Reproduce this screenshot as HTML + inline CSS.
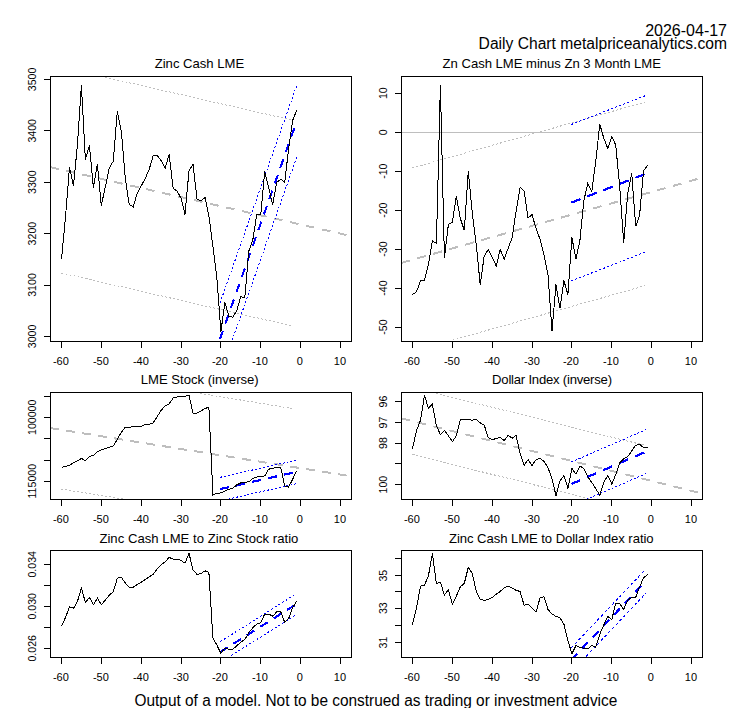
<!DOCTYPE html>
<html><head><meta charset="utf-8"><title>Daily Chart</title>
<style>
html,body{margin:0;padding:0;background:#fff;}
svg{display:block;font-family:"Liberation Sans",sans-serif;}
text{fill:#000;}
.ax{font-size:11px;}
.tt{font-size:13.1px;}
.ay{font-size:10.6px;}
.big{font-size:16px;}
.ln{fill:none;stroke:#000;stroke-width:1;}
</style></head><body>
<svg width="753" height="708" viewBox="0 0 753 708">
<rect width="753" height="708" fill="#fff"/>
<text class="big" x="727" y="36" text-anchor="end">2026-04-17</text>
<text class="big" x="478.6" y="48.7" textLength="248.4" lengthAdjust="spacingAndGlyphs">Daily Chart metalpriceanalytics.com</text>
<text class="big" x="134.5" y="706" textLength="482.8" lengthAdjust="spacingAndGlyphs">Output of a model. Not to be construed as trading or investment advice</text>
<g>
<clipPath id="c0"><rect x="50.5" y="76.5" width="301.0" height="265.0"/></clipPath>
<g clip-path="url(#c0)">
<polyline fill="none" stroke="#bebebe" stroke-width="2" stroke-dasharray="8.9 7.5" shape-rendering="crispEdges" points="50.0,167.1 352.0,236.3"/>
<polyline fill="none" stroke="#bebebe" stroke-width="1" stroke-dasharray="2 2.1" shape-rendering="crispEdges" points="61.5,273.0 293.0,326.1"/>
<polyline fill="none" stroke="#bebebe" stroke-width="1" stroke-dasharray="2 2.1" shape-rendering="crispEdges" points="61.5,67.2 293.0,120.3"/>
<polyline fill="none" stroke="#0000ff" stroke-width="1" stroke-dasharray="1.8 2.2" shape-rendering="crispEdges" points="220.2,302.5 296.8,85.2"/>
<polyline fill="none" stroke="#0000ff" stroke-width="1" stroke-dasharray="1.8 2.2" shape-rendering="crispEdges" points="220.2,374.2 296.8,156.9"/>
<polyline fill="none" stroke="#0000ff" stroke-width="2" stroke-dasharray="9 7.52" shape-rendering="crispEdges" points="219.9,339.2 296.0,123.3"/>
<polyline fill="none" stroke="#000" stroke-width="1" shape-rendering="crispEdges" points="61.5,259.5 65.5,217.0 69.5,167.2 73.5,185.8 77.4,145.0 81.4,85.0 85.4,159.6 89.4,145.3 93.4,187.5 97.4,164.3 101.3,205.5 105.3,187.0 109.3,167.9 113.3,161.2 117.3,111.2 121.3,131.0 125.3,178.5 129.2,204.4 133.2,207.0 137.2,193.1 141.2,186.0 145.2,178.5 149.2,169.2 153.2,155.7 157.1,155.4 161.1,160.6 165.1,168.3 169.1,154.3 173.1,188.1 177.1,191.1 181.1,198.4 185.0,214.4 189.0,170.8 193.0,164.3 197.0,199.1 201.0,201.1 205.0,197.4 208.9,215.8 212.9,246.5 216.9,278.0 220.9,331.7 224.9,302.5 228.9,316.4 232.9,317.1 236.8,310.4 240.8,296.5 244.8,297.8 248.8,251.1 252.8,239.8 256.8,214.3 260.8,214.5 264.7,171.5 268.7,187.8 272.7,204.7 276.7,182.5 280.7,179.2 284.7,182.2 288.6,149.0 292.6,120.5 296.6,110.5"/>
</g>
<rect class="ln" shape-rendering="crispEdges" x="50.5" y="76.5" width="301.0" height="265.0"/>
<path class="ln" shape-rendering="crispEdges" d="M61.5 341.5v6.5M101.5 341.5v6.5M141.5 341.5v6.5M181.5 341.5v6.5M220.5 341.5v6.5M260.5 341.5v6.5M300.5 341.5v6.5M340.5 341.5v6.5M50.5 336.5h-6.5M50.5 285.5h-6.5M50.5 233.5h-6.5M50.5 182.5h-6.5M50.5 130.5h-6.5M50.5 79.5h-6.5"/>
<text class="ax" x="60.9" y="365.0" text-anchor="middle">-60</text>
<text class="ax" x="100.9" y="365.0" text-anchor="middle">-50</text>
<text class="ax" x="140.9" y="365.0" text-anchor="middle">-40</text>
<text class="ax" x="180.9" y="365.0" text-anchor="middle">-30</text>
<text class="ax" x="219.9" y="365.0" text-anchor="middle">-20</text>
<text class="ax" x="259.9" y="365.0" text-anchor="middle">-10</text>
<text class="ax" x="299.9" y="365.0" text-anchor="middle">0</text>
<text class="ax" x="339.9" y="365.0" text-anchor="middle">10</text>
<text class="ay" transform="translate(36.0 336.4) rotate(-90)" text-anchor="middle">3000</text>
<text class="ay" transform="translate(36.0 285.0) rotate(-90)" text-anchor="middle">3100</text>
<text class="ay" transform="translate(36.0 233.6) rotate(-90)" text-anchor="middle">3200</text>
<text class="ay" transform="translate(36.0 182.2) rotate(-90)" text-anchor="middle">3300</text>
<text class="ay" transform="translate(36.0 130.8) rotate(-90)" text-anchor="middle">3400</text>
<text class="ay" transform="translate(36.0 79.4) rotate(-90)" text-anchor="middle">3500</text>
<text class="tt" x="154.7" y="68.1" textLength="89.5" lengthAdjust="spacing">Zinc Cash LME</text>
</g>
<g>
<clipPath id="c1"><rect x="401.5" y="76.5" width="301.0" height="265.0"/></clipPath>
<g clip-path="url(#c1)">
<polyline fill="none" stroke="#bebebe" stroke-width="1" shape-rendering="crispEdges" points="401.0,132.5 703.0,132.5"/>
<polyline fill="none" stroke="#bebebe" stroke-width="2" stroke-dasharray="9 7.6" shape-rendering="crispEdges" points="401.3,262.9 703.0,177.4"/>
<polyline fill="none" stroke="#bebebe" stroke-width="1" stroke-dasharray="2 2.15" shape-rendering="crispEdges" points="412.5,351.5 645.0,285.7"/>
<polyline fill="none" stroke="#bebebe" stroke-width="1" stroke-dasharray="2 2.15" shape-rendering="crispEdges" points="412.5,167.9 645.0,102.1"/>
<polyline fill="none" stroke="#0000ff" stroke-width="1" stroke-dasharray="2 2.3" shape-rendering="crispEdges" points="571.3,124.5 647.6,94.8"/>
<polyline fill="none" stroke="#0000ff" stroke-width="1" stroke-dasharray="2 2.3" shape-rendering="crispEdges" points="571.3,280.9 647.6,251.2"/>
<polyline fill="none" stroke="#0000ff" stroke-width="2.2" stroke-dasharray="10 7.2" shape-rendering="crispEdges" points="571.3,202.7 647.6,173.0"/>
<polyline fill="none" stroke="#000" stroke-width="1" shape-rendering="crispEdges" points="412.5,294.5 416.5,291.8 420.5,280.8 424.5,280.3 428.4,264.6 432.4,241.0 436.4,243.4 440.4,85.0 444.4,257.7 448.4,224.4 452.4,222.2 456.3,196.1 460.3,218.4 464.3,230.4 468.3,171.3 472.3,213.1 476.3,245.0 480.2,284.5 484.2,256.0 488.2,249.6 492.2,257.0 496.2,266.0 500.2,249.6 504.2,259.2 508.1,248.4 512.1,237.7 516.1,211.2 520.1,187.3 524.1,191.2 528.1,218.1 532.0,214.5 536.0,228.4 540.0,239.1 544.0,254.8 548.0,274.6 552.0,331.0 556.0,284.5 559.9,308.4 563.9,280.5 567.9,294.5 571.9,237.5 575.9,259.2 579.9,240.7 583.9,200.5 587.8,183.3 591.8,191.5 595.8,160.6 599.8,124.3 603.8,138.2 607.8,148.5 611.8,136.4 615.7,145.1 619.7,186.0 623.7,243.0 627.7,193.8 631.7,173.1 635.7,226.4 639.6,215.1 643.6,170.8 647.6,165.3"/>
</g>
<rect class="ln" shape-rendering="crispEdges" x="401.5" y="76.5" width="301.0" height="265.0"/>
<path class="ln" shape-rendering="crispEdges" d="M412.5 341.5v6.5M452.5 341.5v6.5M492.5 341.5v6.5M532.5 341.5v6.5M571.5 341.5v6.5M611.5 341.5v6.5M651.5 341.5v6.5M691.5 341.5v6.5M401.5 327.5h-6.5M401.5 288.5h-6.5M401.5 249.5h-6.5M401.5 210.5h-6.5M401.5 171.5h-6.5M401.5 132.5h-6.5M401.5 93.5h-6.5"/>
<text class="ax" x="411.9" y="365.0" text-anchor="middle">-60</text>
<text class="ax" x="451.9" y="365.0" text-anchor="middle">-50</text>
<text class="ax" x="491.9" y="365.0" text-anchor="middle">-40</text>
<text class="ax" x="531.9" y="365.0" text-anchor="middle">-30</text>
<text class="ax" x="570.9" y="365.0" text-anchor="middle">-20</text>
<text class="ax" x="610.9" y="365.0" text-anchor="middle">-10</text>
<text class="ax" x="650.9" y="365.0" text-anchor="middle">0</text>
<text class="ax" x="690.9" y="365.0" text-anchor="middle">10</text>
<text class="ay" transform="translate(387.0 327.1) rotate(-90)" text-anchor="middle">-50</text>
<text class="ay" transform="translate(387.0 288.1) rotate(-90)" text-anchor="middle">-40</text>
<text class="ay" transform="translate(387.0 249.1) rotate(-90)" text-anchor="middle">-30</text>
<text class="ay" transform="translate(387.0 210.2) rotate(-90)" text-anchor="middle">-20</text>
<text class="ay" transform="translate(387.0 171.2) rotate(-90)" text-anchor="middle">-10</text>
<text class="ay" transform="translate(387.0 132.2) rotate(-90)" text-anchor="middle">0</text>
<text class="ay" transform="translate(387.0 93.2) rotate(-90)" text-anchor="middle">10</text>
<text class="tt" x="442.6" y="68.1" textLength="218.4" lengthAdjust="spacing">Zn Cash LME minus Zn 3 Month LME</text>
</g>
<g>
<clipPath id="c2"><rect x="50.5" y="392.5" width="301.0" height="107.0"/></clipPath>
<g clip-path="url(#c2)">
<polyline fill="none" stroke="#bebebe" stroke-width="2" stroke-dasharray="8.8 7.4" shape-rendering="crispEdges" points="50.0,428.0 352.0,476.4"/>
<polyline fill="none" stroke="#bebebe" stroke-width="1" stroke-dasharray="2 2" shape-rendering="crispEdges" points="61.5,489.1 294.5,526.4"/>
<polyline fill="none" stroke="#bebebe" stroke-width="1" stroke-dasharray="2 2" shape-rendering="crispEdges" points="61.5,370.7 293.0,408.6"/>
<polyline fill="none" stroke="#0000ff" stroke-width="1" stroke-dasharray="2 2" shape-rendering="crispEdges" points="220.2,477.3 295.6,460.3"/>
<polyline fill="none" stroke="#0000ff" stroke-width="1" stroke-dasharray="2 2" shape-rendering="crispEdges" points="220.2,500.9 295.6,483.9"/>
<polyline fill="none" stroke="#0000ff" stroke-width="2.2" stroke-dasharray="9.2 7.2" shape-rendering="crispEdges" points="220.2,489.1 294.2,472.4"/>
<polyline fill="none" stroke="#000" stroke-width="1" shape-rendering="crispEdges" points="61.5,467.4 65.5,466.4 69.5,465.4 73.5,462.6 77.4,460.9 81.4,458.4 85.4,460.7 89.4,456.5 93.4,455.3 97.4,451.8 101.3,449.8 105.3,448.7 109.3,447.2 113.3,445.9 117.3,439.4 121.3,432.3 125.3,427.3 129.2,427.3 133.2,426.5 137.2,426.5 141.2,426.2 145.2,424.5 149.2,424.3 153.2,422.8 157.1,416.7 161.1,410.5 165.1,405.8 169.1,404.0 173.1,398.1 177.1,397.0 181.1,396.2 185.0,396.2 189.0,395.4 193.0,413.3 197.0,413.0 201.0,411.0 205.0,408.6 208.9,407.1 212.9,494.9 216.9,493.3 220.9,492.9 224.9,491.0 228.9,489.4 232.9,488.2 236.8,484.8 240.8,482.9 244.8,482.4 248.8,481.7 252.8,478.6 256.8,477.0 260.8,476.4 264.7,475.9 268.7,469.2 272.7,468.2 276.7,467.7 280.7,467.2 284.7,486.0 288.6,487.1 292.6,479.3 296.6,470.8"/>
</g>
<rect class="ln" shape-rendering="crispEdges" x="50.5" y="392.5" width="301.0" height="107.0"/>
<path class="ln" shape-rendering="crispEdges" d="M61.5 499.5v6.5M101.5 499.5v6.5M141.5 499.5v6.5M181.5 499.5v6.5M220.5 499.5v6.5M260.5 499.5v6.5M300.5 499.5v6.5M340.5 499.5v6.5M50.5 396.5h-6.5M50.5 417.5h-6.5M50.5 438.5h-6.5M50.5 460.5h-6.5M50.5 481.5h-6.5"/>
<text class="ax" x="60.9" y="523.0" text-anchor="middle">-60</text>
<text class="ax" x="100.9" y="523.0" text-anchor="middle">-50</text>
<text class="ax" x="140.9" y="523.0" text-anchor="middle">-40</text>
<text class="ax" x="180.9" y="523.0" text-anchor="middle">-30</text>
<text class="ax" x="219.9" y="523.0" text-anchor="middle">-20</text>
<text class="ax" x="259.9" y="523.0" text-anchor="middle">-10</text>
<text class="ax" x="299.9" y="523.0" text-anchor="middle">0</text>
<text class="ax" x="339.9" y="523.0" text-anchor="middle">10</text>
<text class="ay" transform="translate(36.0 417.3) rotate(-90)" text-anchor="middle">100000</text>
<text class="ay" transform="translate(36.0 481.2) rotate(-90)" text-anchor="middle">115000</text>
<text class="tt" x="140.8" y="383.9" textLength="117.9" lengthAdjust="spacing">LME Stock (inverse)</text>
</g>
<g>
<clipPath id="c3"><rect x="401.5" y="392.5" width="301.0" height="107.0"/></clipPath>
<g clip-path="url(#c3)">
<polyline fill="none" stroke="#bebebe" stroke-width="2" stroke-dasharray="8.9 7.6" shape-rendering="crispEdges" points="401.3,418.3 703.0,493.7"/>
<polyline fill="none" stroke="#bebebe" stroke-width="1" stroke-dasharray="2 2" shape-rendering="crispEdges" points="412.5,454.5 645.0,512.6"/>
<polyline fill="none" stroke="#bebebe" stroke-width="1" stroke-dasharray="2 2" shape-rendering="crispEdges" points="412.5,387.3 645.0,445.4"/>
<polyline fill="none" stroke="#0000ff" stroke-width="1" stroke-dasharray="2 2" shape-rendering="crispEdges" points="571.3,462.0 646.4,429.5"/>
<polyline fill="none" stroke="#0000ff" stroke-width="1" stroke-dasharray="2 2" shape-rendering="crispEdges" points="571.3,506.0 646.4,473.5"/>
<polyline fill="none" stroke="#0000ff" stroke-width="2.2" stroke-dasharray="9.8 7.6" shape-rendering="crispEdges" points="571.3,484.0 645.0,452.1"/>
<polyline fill="none" stroke="#000" stroke-width="1" shape-rendering="crispEdges" points="412.5,448.7 416.5,430.7 420.5,420.3 424.5,395.4 428.4,408.3 432.4,404.3 436.4,425.7 440.4,434.6 444.4,430.4 448.4,435.8 452.4,441.6 456.3,435.8 460.3,419.5 464.3,419.2 468.3,419.2 472.3,420.3 476.3,419.2 480.2,422.9 484.2,425.0 488.2,437.4 492.2,439.7 496.2,438.5 500.2,437.4 504.2,440.5 508.1,435.4 512.1,438.2 516.1,435.4 520.1,453.7 524.1,465.4 528.1,459.6 532.0,465.4 536.0,459.9 540.0,458.1 544.0,461.5 548.0,467.7 552.0,478.6 556.0,495.7 559.9,480.9 563.9,475.5 567.9,488.2 571.9,468.5 575.9,473.9 579.9,466.1 583.9,468.5 587.8,477.0 591.8,482.4 595.8,488.7 599.8,495.3 603.8,482.4 607.8,475.5 611.8,484.0 615.7,474.7 619.7,463.0 623.7,458.8 627.7,456.8 631.7,450.9 635.7,445.2 639.6,444.4 643.6,447.5 647.6,447.5"/>
</g>
<rect class="ln" shape-rendering="crispEdges" x="401.5" y="392.5" width="301.0" height="107.0"/>
<path class="ln" shape-rendering="crispEdges" d="M412.5 499.5v6.5M452.5 499.5v6.5M492.5 499.5v6.5M532.5 499.5v6.5M571.5 499.5v6.5M611.5 499.5v6.5M651.5 499.5v6.5M691.5 499.5v6.5M401.5 401.5h-6.5M401.5 422.5h-6.5M401.5 443.5h-6.5M401.5 463.5h-6.5M401.5 484.5h-6.5"/>
<text class="ax" x="411.9" y="523.0" text-anchor="middle">-60</text>
<text class="ax" x="451.9" y="523.0" text-anchor="middle">-50</text>
<text class="ax" x="491.9" y="523.0" text-anchor="middle">-40</text>
<text class="ax" x="531.9" y="523.0" text-anchor="middle">-30</text>
<text class="ax" x="570.9" y="523.0" text-anchor="middle">-20</text>
<text class="ax" x="610.9" y="523.0" text-anchor="middle">-10</text>
<text class="ax" x="650.9" y="523.0" text-anchor="middle">0</text>
<text class="ax" x="690.9" y="523.0" text-anchor="middle">10</text>
<text class="ay" transform="translate(387.0 401.5) rotate(-90)" text-anchor="middle">96</text>
<text class="ay" transform="translate(387.0 422.5) rotate(-90)" text-anchor="middle">97</text>
<text class="ay" transform="translate(387.0 443.0) rotate(-90)" text-anchor="middle">98</text>
<text class="ay" transform="translate(387.0 484.6) rotate(-90)" text-anchor="middle">100</text>
<text class="tt" x="492.1" y="383.9" textLength="119.9" lengthAdjust="spacing">Dollar Index (inverse)</text>
</g>
<g>
<clipPath id="c4"><rect x="50.5" y="550.5" width="301.0" height="107.0"/></clipPath>
<g clip-path="url(#c4)">
<polyline fill="none" stroke="#0000ff" stroke-width="1" stroke-dasharray="2 2.3" shape-rendering="crispEdges" points="220.2,641.7 295.6,594.2"/>
<polyline fill="none" stroke="#0000ff" stroke-width="1" stroke-dasharray="2 2.3" shape-rendering="crispEdges" points="220.2,662.5 295.6,615.0"/>
<polyline fill="none" stroke="#0000ff" stroke-width="2.2" stroke-dasharray="8.8 7.0" shape-rendering="crispEdges" points="220.2,652.1 294.2,605.5"/>
<polyline fill="none" stroke="#000" stroke-width="1" shape-rendering="crispEdges" points="61.5,625.7 65.5,617.6 69.5,607.0 73.5,608.3 77.4,601.6 81.4,588.1 85.4,602.4 89.4,597.4 93.4,604.7 97.4,598.2 101.3,604.7 105.3,600.1 109.3,595.1 113.3,591.8 117.3,578.3 121.3,577.2 125.3,583.0 129.2,587.2 133.2,587.3 137.2,584.5 141.2,582.2 145.2,579.5 149.2,577.0 153.2,574.3 157.1,569.0 161.1,564.8 165.1,562.0 169.1,557.3 173.1,559.2 177.1,559.2 181.1,560.4 185.0,563.2 189.0,553.4 193.0,569.8 197.0,574.4 201.0,573.6 205.0,570.8 208.9,572.5 212.9,638.1 216.9,645.1 220.9,653.3 224.9,648.2 228.9,649.3 232.9,649.0 236.8,645.9 240.8,642.0 244.8,639.6 248.8,632.5 252.8,627.8 256.8,624.0 260.8,622.8 264.7,614.0 268.7,614.0 272.7,616.1 276.7,612.0 280.7,611.7 284.7,622.3 288.6,618.7 292.6,607.8 296.6,601.3"/>
</g>
<rect class="ln" shape-rendering="crispEdges" x="50.5" y="550.5" width="301.0" height="107.0"/>
<path class="ln" shape-rendering="crispEdges" d="M61.5 657.5v6.5M101.5 657.5v6.5M141.5 657.5v6.5M181.5 657.5v6.5M220.5 657.5v6.5M260.5 657.5v6.5M300.5 657.5v6.5M340.5 657.5v6.5M50.5 564.5h-6.5M50.5 585.5h-6.5M50.5 606.5h-6.5M50.5 627.5h-6.5M50.5 648.5h-6.5"/>
<text class="ax" x="60.9" y="681.0" text-anchor="middle">-60</text>
<text class="ax" x="100.9" y="681.0" text-anchor="middle">-50</text>
<text class="ax" x="140.9" y="681.0" text-anchor="middle">-40</text>
<text class="ax" x="180.9" y="681.0" text-anchor="middle">-30</text>
<text class="ax" x="219.9" y="681.0" text-anchor="middle">-20</text>
<text class="ax" x="259.9" y="681.0" text-anchor="middle">-10</text>
<text class="ax" x="299.9" y="681.0" text-anchor="middle">0</text>
<text class="ax" x="339.9" y="681.0" text-anchor="middle">10</text>
<text class="ay" transform="translate(36.0 564.3) rotate(-90)" text-anchor="middle">0.034</text>
<text class="ay" transform="translate(36.0 606.3) rotate(-90)" text-anchor="middle">0.030</text>
<text class="ay" transform="translate(36.0 648.3) rotate(-90)" text-anchor="middle">0.026</text>
<text class="tt" x="99.4" y="542.5" textLength="199.0" lengthAdjust="spacing">Zinc Cash LME to Zinc Stock ratio</text>
</g>
<g>
<clipPath id="c5"><rect x="401.5" y="550.5" width="301.0" height="107.0"/></clipPath>
<g clip-path="url(#c5)">
<polyline fill="none" stroke="#0000ff" stroke-width="1" stroke-dasharray="2.8 2.6" shape-rendering="crispEdges" points="571.3,647.8 646.4,568.5"/>
<polyline fill="none" stroke="#0000ff" stroke-width="1" stroke-dasharray="2.8 2.6" shape-rendering="crispEdges" points="571.3,672.0 646.4,592.7"/>
<polyline fill="none" stroke="#0000ff" stroke-width="2.2" stroke-dasharray="8.4 7.2" shape-rendering="crispEdges" points="571.3,659.9 645.0,582.0"/>
<polyline fill="none" stroke="#000" stroke-width="1" shape-rendering="crispEdges" points="412.5,624.6 416.5,607.8 420.5,586.1 424.5,585.0 428.4,576.0 432.4,553.4 436.4,583.7 440.4,582.2 444.4,595.1 448.4,589.6 452.4,604.4 456.3,596.2 460.3,586.8 464.3,583.4 468.3,567.4 472.3,573.6 476.3,591.5 480.2,599.0 484.2,600.5 488.2,599.3 492.2,597.4 496.2,594.3 500.2,591.5 504.2,587.6 508.1,586.1 512.1,588.1 516.1,590.3 520.1,591.5 524.1,605.2 528.1,604.2 532.0,607.8 536.0,612.2 540.0,598.0 544.0,596.6 548.0,609.4 552.0,614.0 556.0,616.4 559.9,617.6 563.9,624.1 567.9,640.4 571.9,653.7 575.9,645.6 579.9,647.4 583.9,648.2 587.8,649.0 591.8,645.6 595.8,647.1 599.8,634.2 603.8,624.9 607.8,616.4 611.8,619.5 615.7,603.6 619.7,603.6 623.7,609.4 627.7,600.1 631.7,597.7 635.7,597.4 639.6,586.8 643.6,577.8 647.6,574.4"/>
</g>
<rect class="ln" shape-rendering="crispEdges" x="401.5" y="550.5" width="301.0" height="107.0"/>
<path class="ln" shape-rendering="crispEdges" d="M412.5 657.5v6.5M452.5 657.5v6.5M492.5 657.5v6.5M532.5 657.5v6.5M571.5 657.5v6.5M611.5 657.5v6.5M651.5 657.5v6.5M691.5 657.5v6.5M401.5 558.5h-6.5M401.5 575.5h-6.5M401.5 591.5h-6.5M401.5 608.5h-6.5M401.5 625.5h-6.5M401.5 642.5h-6.5"/>
<text class="ax" x="411.9" y="681.0" text-anchor="middle">-60</text>
<text class="ax" x="451.9" y="681.0" text-anchor="middle">-50</text>
<text class="ax" x="491.9" y="681.0" text-anchor="middle">-40</text>
<text class="ax" x="531.9" y="681.0" text-anchor="middle">-30</text>
<text class="ax" x="570.9" y="681.0" text-anchor="middle">-20</text>
<text class="ax" x="610.9" y="681.0" text-anchor="middle">-10</text>
<text class="ax" x="650.9" y="681.0" text-anchor="middle">0</text>
<text class="ax" x="690.9" y="681.0" text-anchor="middle">10</text>
<text class="ay" transform="translate(387.0 575.7) rotate(-90)" text-anchor="middle">35</text>
<text class="ay" transform="translate(387.0 608.2) rotate(-90)" text-anchor="middle">33</text>
<text class="ay" transform="translate(387.0 642.6) rotate(-90)" text-anchor="middle">31</text>
<text class="tt" x="449.0" y="542.5" textLength="204.6" lengthAdjust="spacing">Zinc Cash LME to Dollar Index ratio</text>
</g>
</svg></body></html>
